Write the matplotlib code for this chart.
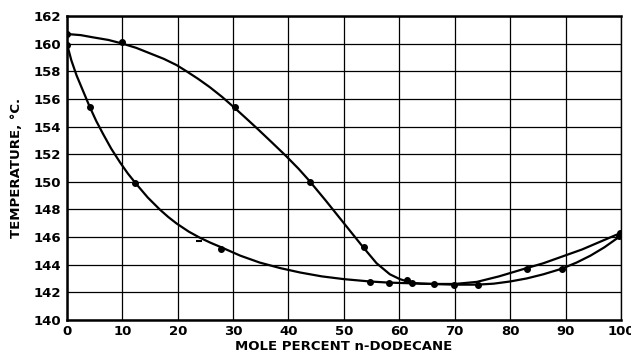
import matplotlib.pyplot as plt
import numpy as np

# measured points (mole percent n-dodecane, temperature C)
upper_x = [0, 10, 30.3, 43.9, 53.6, 61.4, 62.3, 83.0, 99.8]
upper_t = [160.7, 160.1, 155.4, 150.0, 145.3, 142.9, 142.7, 143.7, 146.3]
lower_x = [0, 4.1, 12.3, 27.8, 54.7, 58.1, 66.2, 69.9, 74.2, 89.3, 99.6]
lower_t = [159.9, 155.4, 149.9, 145.1, 142.75, 142.7, 142.6, 142.5, 142.5, 143.7, 146.1]
tick_x = [23.9]
tick_t = [145.7]

# curves
upper_cx = [0, 2.5, 4.7, 7.5, 9.9, 12.5, 15.0, 17.5, 19.8, 21.6, 23.7, 25.8, 28, 30.0,
            32.2, 34.5, 37, 39.6, 41.8, 43.7, 46.7, 49.6, 51.6, 53.5, 55.9, 58.3, 60.1,
            61.3, 62.2, 64, 66.1, 70, 74, 78, 83, 86, 89.5, 93, 96.5, 100]
upper_ct = [160.7, 160.62, 160.46, 160.27, 160.02, 159.7, 159.3, 158.9, 158.45, 158.0, 157.45,
            156.85, 156.15, 155.45, 154.65, 153.8, 152.85, 151.85, 150.95, 150.1, 148.65, 147.2,
            146.2, 145.25, 144.1, 143.3, 142.95, 142.8, 142.68, 142.62, 142.6, 142.6, 142.75,
            143.15, 143.75, 144.1, 144.6, 145.1, 145.7, 146.3]
lower_cx = [0, 0.8, 1.75, 3.0, 4.15, 5.3, 6.55, 8.0, 9.6, 11, 12.5, 14.6, 16.8, 18.3, 19.8,
            22, 24.0, 25.9, 27.9, 31.3, 34.8, 38.5, 42.1, 46, 50, 54.7, 58, 62, 66, 70, 74,
            77, 80, 83, 86, 89.3, 92, 94.5, 97, 100]
lower_ct = [160.0, 158.8, 157.7, 156.5, 155.4, 154.4, 153.45, 152.4, 151.4, 150.6, 149.85, 148.86,
            147.98, 147.45, 146.98, 146.39, 145.95, 145.59, 145.25, 144.65, 144.15, 143.75, 143.43,
            143.15, 142.95, 142.78, 142.7, 142.65, 142.6, 142.55, 142.55, 142.62, 142.78,
            143.0, 143.3, 143.7, 144.15, 144.65, 145.25, 146.1]

fig = plt.figure(figsize=(6.31, 3.57), dpi=100)
ax = fig.add_axes([0.106, 0.104, 0.878, 0.851])

ax.plot(upper_cx, upper_ct, color='black', lw=1.6)
ax.plot(lower_cx, lower_ct, color='black', lw=1.6)
ax.plot(upper_x, upper_t, 'o', color='black', ms=4)
ax.plot(lower_x, lower_t, 'o', color='black', ms=4)
ax.plot(tick_x, tick_t, marker='_', color='black', ms=5, mew=1.5, ls='none')

ax.set_xlim(0, 100)
ax.set_ylim(140, 162)
ax.set_xticks(np.arange(0, 101, 10))
ax.set_yticks(np.arange(140, 163, 2))
ax.grid(True, color='black', lw=0.9)
ax.tick_params(length=0, labelsize=9.5, pad=4)
for lbl in ax.get_xticklabels() + ax.get_yticklabels():
    lbl.set_fontweight('bold')
for s in ax.spines.values():
    s.set_linewidth(1.8)
ax.spines['right'].set_linewidth(1.0)

ax.set_xlabel('MOLE PERCENT n-DODECANE', fontsize=9.5, fontweight='bold', labelpad=1)
ax.set_ylabel('TEMPERATURE, °C.', fontsize=9.5, fontweight='bold', labelpad=8)

fig.savefig('out.png', dpi=100)
